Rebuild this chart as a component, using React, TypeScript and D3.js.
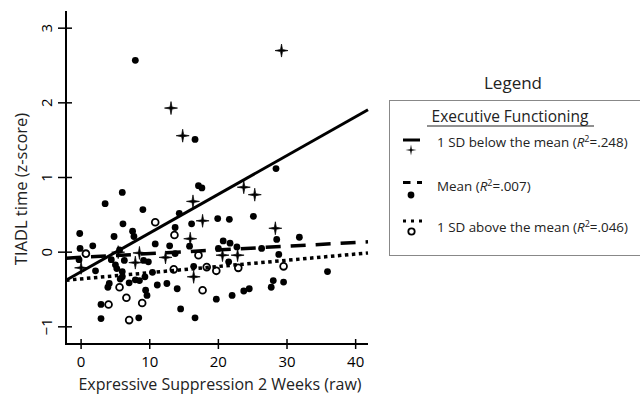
import * as d3 from "d3"

// 1 SD below the mean (stars)
const belowPts: [number, number][] = [
  [29.2, 2.7], [13.1, 1.93], [14.8, 1.56], [23.7, 0.87], [25.3, 0.77], [16.3, 0.68],
  [17.7, 0.42], [15.9, 0.18], [28.3, 0.32], [5.4, 0.0], [8.5, -0.01], [7.9, -0.14],
  [12.3, -0.07], [20.6, -0.04], [22.8, -0.04], [16.4, -0.33], [0.0, -0.21],
]

// mean (filled dots)
const meanPts: [number, number][] = [
  [7.9, 2.57], [16.6, 1.51], [28.4, 1.12], [17.1, 0.89], [17.6, 0.86], [6.0, 0.8],
  [3.5, 0.65], [9.0, 0.57], [14.3, 0.52], [25.1, 0.48], [19.9, 0.45], [21.6, 0.44],
  [16.1, 0.38], [6.1, 0.38], [13.7, 0.33], [7.5, 0.28], [7.7, 0.21], [4.8, 0.21],
  [-0.2, 0.25], [20.7, 0.15], [21.7, 0.12], [28.5, 0.17], [31.8, 0.2], [10.8, 0.11],
  [12.9, 0.085], [15.8, 0.08], [1.7, 0.085], [-0.15, 0.05], [20.0, 0.05], [22.7, 0.07],
  [26.3, 0.05], [5.6, 0.03], [13.7, -0.02], [28.8, -0.03], [-0.3, -0.1], [4.4, -0.1],
  [6.3, -0.11], [9.1, -0.11], [9.8, -0.13], [21.5, -0.13], [5.0, -0.17], [5.2, -0.22],
  [16.4, -0.19], [2.1, -0.25], [6.0, -0.26], [6.0, -0.33], [10.4, -0.27], [35.9, -0.26],
  [5.7, -0.36], [7.0, -0.41], [7.9, -0.37], [8.5, -0.38], [9.3, -0.33], [4.1, -0.42],
  [3.9, -0.47], [11.1, -0.44], [12.5, -0.42], [14.0, -0.49], [9.4, -0.51], [9.6, -0.58],
  [28.0, -0.38], [27.7, -0.47], [29.5, -0.4], [24.5, -0.49], [23.7, -0.52], [22.0, -0.58],
  [19.7, -0.63], [14.5, -0.76], [2.9, -0.7], [2.9, -0.89], [8.4, -0.88], [16.6, -0.88],
]

// 1 SD above the mean (open circles)
const abovePts: [number, number][] = [
  [0.7, -0.02], [10.8, 0.4], [13.6, 0.23], [17.1, -0.04], [13.5, -0.23], [18.3, -0.2],
  [19.7, -0.25], [22.9, -0.21], [29.5, -0.19], [17.7, -0.51], [5.6, -0.47], [6.6, -0.61],
  [4.0, -0.7], [8.9, -0.68], [7.0, -0.91],
]

// fitted lines: intercept, slope
const fitBelow = [-0.262, 0.0519]
const fitMean = [-0.069, 0.00496]
const fitAbove = [-0.358, 0.00832]

const xTicks = [0, 10, 20, 30, 40]
const yTicks = [-1, 0, 1, 2, 3]

const legendLabels = ["1 SD below the mean (", "Mean (", "1 SD above the mean ("]
const legendR2 = ["=.248)", "=.007)", "=.046)"]

const FONT = "'Open Sans', sans-serif"

export default function App() {
  const x = d3.scaleLinear().domain([-2.2, 41.8]).range([66, 368])
  const y = d3.scaleLinear().domain([-1.23, 3.23]).range([344, 11])
  const [x0, x1] = x.domain()

  const starPts = d3.range(8).map(i => {
    const r = i % 2 === 0 ? 6.5 : 1.4
    const a = (i * Math.PI) / 4
    return [r * Math.sin(a), -r * Math.cos(a)] as [number, number]
  })
  const star = d3.line().curve(d3.curveLinearClosed)(starPts) || ""

  const fitLine = (f: number[]) => {
    const line = d3.line<number>().x(d => x(d)).y(d => y(f[0] + f[1] * d))
    return line([x0, x1]) || ""
  }

  const lineStyles = [
    { fit: fitBelow, dash: undefined, w: 3, legDash: undefined },
    { fit: fitMean, dash: "15,10", w: 3.5, legDash: "7.5,6.5,5,20" },
    { fit: fitAbove, dash: "3.5,3.5", w: 3.5, legDash: "3,5" },
  ]

  // legend rows: line y, marker y, text centre y
  const legLineY = [140, 182.5, 221]
  const legMarkY = [150, 195, 231.5]
  const legTextY = [141.5, 185.5, 226.5]

  return (
    <svg width={640} height={394} style={{ position: "absolute", left: 0, top: 0, background: "#fff" }}>
      {/* axes */}
      <line x1={66} x2={66} y1={11} y2={345} stroke="#000" strokeWidth={2} />
      <line x1={65} x2={368} y1={344} y2={344} stroke="#000" strokeWidth={2} />
      {yTicks.map(t => (
        <g key={"y" + t}>
          <line x1={58} x2={72} y1={y(t)} y2={y(t)} stroke="#000" strokeWidth={1.5} />
          <text transform={`translate(52,${y(t)}) rotate(-90)`} textAnchor="middle" fontFamily={FONT} fontSize={15}>
            {t === -1 ? "\u22121" : t}
          </text>
        </g>
      ))}
      {xTicks.map(t => (
        <g key={"x" + t}>
          <line x1={x(t)} x2={x(t)} y1={339} y2={349} stroke="#000" strokeWidth={1.5} />
          <text x={x(t)} y={367} textAnchor="middle" fontFamily={FONT} fontSize={15}>{t}</text>
        </g>
      ))}
      <text x={220} y={390} textAnchor="middle" fontFamily={FONT} fontSize={16} fill="#222">
        Expressive Suppression 2 Weeks (raw)
      </text>
      <text transform="translate(27,189) rotate(-90)" textAnchor="middle" fontFamily={FONT} fontSize={16.5} fill="#222">
        TIADL time (z-score)
      </text>

      {/* points */}
      {meanPts.map((p, i) => (
        <circle key={"m" + i} cx={x(p[0])} cy={y(p[1])} r={3.4} fill="#000" />
      ))}
      {abovePts.map((p, i) => (
        <circle key={"a" + i} cx={x(p[0])} cy={y(p[1])} r={3.4} fill="#fff" stroke="#000" strokeWidth={1.8} />
      ))}
      {belowPts.map((p, i) => (
        <path key={"b" + i} d={star} transform={`translate(${x(p[0])},${y(p[1])})`} fill="#000" stroke="#000" strokeWidth={0.7} />
      ))}

      {/* fitted lines */}
      {lineStyles.map((s, i) => (
        <path key={"l" + i} d={fitLine(s.fit)} fill="none" stroke="#000" strokeWidth={s.w} strokeDasharray={s.dash} />
      ))}

      {/* legend */}
      <text x={513} y={89} textAnchor="middle" fontFamily={FONT} fontSize={17} fill="#222">Legend</text>
      <rect x={389.5} y={100.5} width={260} height={155} fill="none" stroke="#888" strokeWidth={1} />
      <text x={510} y={122} textAnchor="middle" fontFamily={FONT} fontSize={15.5} fill="#222">Executive Functioning</text>
      <line x1={427} x2={594} y1={126} y2={126} stroke="#222" strokeWidth={1.2} />
      {lineStyles.map((s, i) => (
        <g key={"lg" + i}>
          <line x1={403} x2={i === 0 ? 420 : 423} y1={legLineY[i]} y2={legLineY[i]}
            stroke="#000" strokeWidth={3} strokeDasharray={s.legDash} />
          {i === 0 && <path d={star} transform={`translate(411,${legMarkY[i]}) scale(0.85)`} fill="#000" />}
          {i === 1 && <circle cx={411} cy={legMarkY[i]} r={3.4} fill="#000" />}
          {i === 2 && <circle cx={411.5} cy={legMarkY[i]} r={3.2} fill="#fff" stroke="#000" strokeWidth={1.8} />}
          <text x={437} y={legTextY[i] + 5} fontFamily={FONT} fontSize={13.4} fill="#222">
            {legendLabels[i]}
            <tspan fontStyle="italic">R</tspan>
            <tspan fontSize={9} dy={-5}>2</tspan>
            <tspan dy={5}>{legendR2[i]}</tspan>
          </text>
        </g>
      ))}
    </svg>
  )
}
